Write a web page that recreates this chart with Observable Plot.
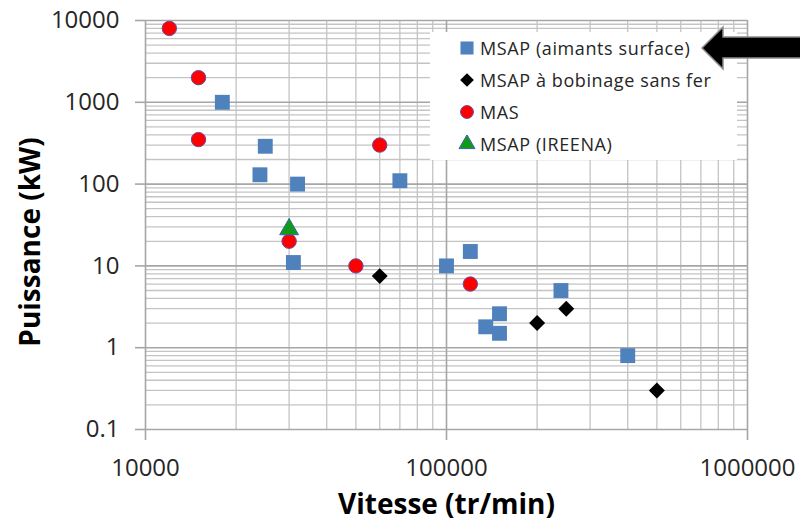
<!DOCTYPE html>
<html>
<head>
<meta charset="utf-8">
<script src="https://cdn.jsdelivr.net/npm/d3@7"></script>
<script src="https://cdn.jsdelivr.net/npm/@observablehq/plot@0.6"></script>
<style>
  html, body { margin: 0; padding: 0; background: #fff; }
  #wrap { position: relative; width: 800px; height: 523px; overflow: hidden; font-family: "Open Sans", sans-serif; }
  #legend { position: absolute; left: 430px; top: 32px; width: 307px; height: 128px; background: #fff; }
  .item { position: absolute; left: 28px; height: 32px; display: flex; align-items: center; font-size: 18px; letter-spacing: 0.6px; color: #262626; white-space: nowrap; }
  .item svg { margin-right: 4px; }
  #arrow { position: absolute; left: 0; top: 0; pointer-events: none; }
</style>
</head>
<body>
<div id="wrap"></div>
<script>
// ---- data ----
const seriesNames = ["MSAP (aimants surface)", "MSAP à bobinage sans fer", "MAS", "MSAP (IREENA)"];

const msapSurfX = [18000, 25000, 24000, 32000, 31000, 70000, 100000, 120000, 240000, 135000, 150000, 150000, 400000];
const msapSurfY = [1000, 290, 130, 100, 11, 110, 10, 15, 5, 1.8, 2.6, 1.5, 0.8];

const msapIronlessX = [60000, 200000, 250000, 500000];
const msapIronlessY = [7.5, 2, 3, 0.3];

const masX = [12000, 15000, 15000, 60000, 30000, 50000, 120000];
const masY = [8000, 2000, 350, 300, 20, 10, 6];

const ireenaX = [30000];
const ireenaY = [28];

const xTicks = [10000, 100000, 1000000];
const yTicks = [0.1, 1, 10, 100, 1000, 10000];
const minorMult = [2, 3, 4, 5, 6, 7, 8, 9];

const xLabel = "Vitesse (tr/min)";
const yLabel = "Puissance (kW)";

// ---- derived ----
const toRows = (xs, ys) => xs.map((x, i) => ({x, y: ys[i]}));
const xMinor = xTicks.slice(0, -1).flatMap(d => minorMult.map(m => d * m));
const yMinor = yTicks.slice(0, -1).flatMap(d => minorMult.map(m => +(d * m).toPrecision(6)));

const blue = "#4f81bd", red = "#ff0000", green = "#0f9a1a", black = "#000000";
const fontTick = "Open Sans, sans-serif";

const chart = Plot.plot({
  width: 800,
  height: 523,
  marginLeft: 145,
  marginRight: 53,
  marginTop: 20,
  marginBottom: 94,
  style: {fontFamily: fontTick, background: "#fff", overflow: "visible"},
  x: {type: "log", domain: [1e4, 1e6]},
  y: {type: "log", domain: [0.1, 1e4]},
  marks: [
    Plot.ruleX(xMinor, {stroke: "#c4c4c4", strokeWidth: 1.3}),
    Plot.ruleY(yMinor, {stroke: "#c4c4c4", strokeWidth: 1.3}),
    Plot.ruleX(xTicks, {stroke: "#a6a6a6", strokeWidth: 1.6}),
    Plot.ruleY(yTicks, {stroke: "#a6a6a6", strokeWidth: 1.6}),
    Plot.axisX(xTicks, {tickSize: 11, tickPadding: 18, tickFormat: d => String(d), fontSize: 24, fill: "#262626", stroke: "#a6a6a6", strokeWidth: 1.6, label: null}),
    Plot.axisY(yTicks, {tickSize: 10, tickPadding: 16, tickFormat: d => String(d), fontSize: 24, fill: "#262626", stroke: "#a6a6a6", strokeWidth: 1.6, label: null}),
    Plot.dot(toRows(msapSurfX, msapSurfY), {x: "x", y: "y", symbol: "square", r: 8.4, fill: blue, stroke: "none"}),
    Plot.dot(toRows(msapIronlessX, msapIronlessY), {x: "x", y: "y", symbol: "diamond2", r: 7.2, fill: black, stroke: "none"}),
    Plot.dot(toRows(masX, masY), {x: "x", y: "y", symbol: "circle", r: 7.2, fill: red, stroke: "#6a4aa0", strokeWidth: 1}),
    Plot.dot(toRows(ireenaX, ireenaY), {x: "x", y: "y", symbol: "triangle", r: 7, fill: green, stroke: "#3a64a8", strokeWidth: 1}),
    Plot.text([xLabel], {frameAnchor: "bottom", dy: 84, fontSize: 28, fontWeight: "bold", fill: "#000"}),
    Plot.text([yLabel], {frameAnchor: "left", textAnchor: "middle", dx: -114, dy: 17, rotate: -90, fontSize: 28, fontWeight: "bold", fill: "#000"})
  ]
});

const wrap = document.getElementById("wrap");
wrap.appendChild(chart);

// ---- legend ----
const legend = document.createElement("div");
legend.id = "legend";
const legendSymbols = [
  {sym: d3.symbolSquare, size: 170, fill: blue, stroke: "none"},
  {sym: d3.symbolDiamond2, size: 120, fill: black, stroke: "none"},
  {sym: d3.symbolCircle, size: 130, fill: red, stroke: "#6a4aa0"},
  {sym: d3.symbolTriangle, size: 110, fill: green, stroke: "#3a64a8"}
];
seriesNames.forEach((name, i) => {
  const it = document.createElement("div");
  it.className = "item";
  it.style.top = (i * 32) + "px";
  const s = legendSymbols[i];
  const path = d3.symbol(s.sym, s.size)();
  it.innerHTML = `<svg width="18" height="18" viewBox="-9 -9 18 18"><path d="${path}" fill="${s.fill}" stroke="${s.stroke}" stroke-width="1"/></svg><span>${name}</span>`;
  legend.appendChild(it);
});
wrap.appendChild(legend);

// ---- annotation arrow ----
const ns = "http://www.w3.org/2000/svg";
const arrow = document.createElementNS(ns, "svg");
arrow.setAttribute("id", "arrow");
arrow.setAttribute("width", 800);
arrow.setAttribute("height", 523);
const poly = document.createElementNS(ns, "polygon");
poly.setAttribute("points", "702,48 723,27 723,37 802,37 802,58 723,58 723,69");
poly.setAttribute("fill", "#000");
poly.setAttribute("stroke", "#8c8c8c");
poly.setAttribute("stroke-width", "1.5");
arrow.appendChild(poly);
wrap.appendChild(arrow);
</script>
</body>
</html>
